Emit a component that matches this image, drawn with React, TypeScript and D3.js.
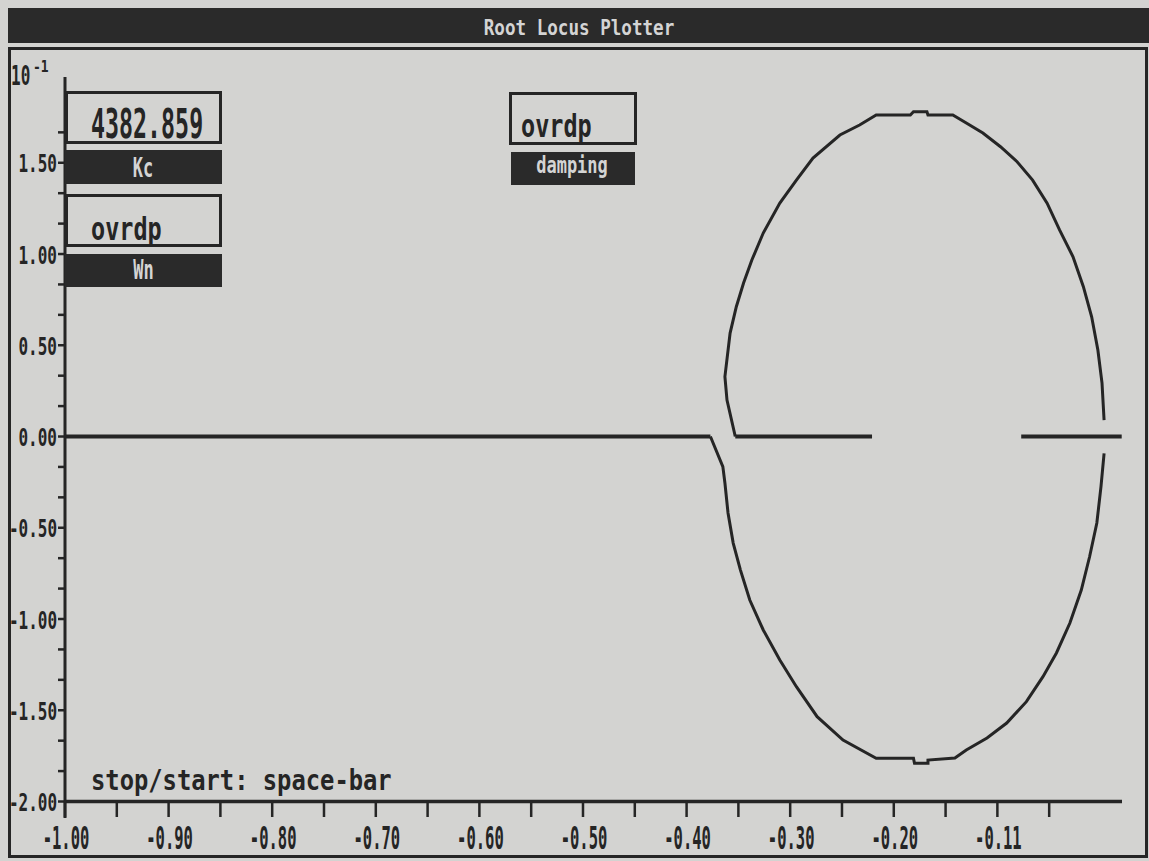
import { scaleLinear, line, range } from "d3";

const width = 1149;
const height = 861;

const upperRe = [-0.353, -0.361, -0.363, -0.358, -0.352, -0.345, -0.337, -0.326, -0.310, -0.294, -0.278, -0.252, -0.233, -0.217, -0.184, -0.181, -0.168, -0.167, -0.143, -0.130, -0.114, -0.097, -0.081, -0.066, -0.052, -0.040, -0.027, -0.017, -0.009, -0.003, 0.001, 0.003];
const upperIm = [0, 0.20, 0.328, 0.567, 0.711, 0.841, 0.967, 1.115, 1.279, 1.405, 1.526, 1.652, 1.707, 1.762, 1.762, 1.780, 1.780, 1.762, 1.762, 1.718, 1.663, 1.588, 1.506, 1.405, 1.279, 1.132, 0.985, 0.821, 0.656, 0.474, 0.293, 0.090];
const lowerRe = [-0.377, -0.365, -0.363, -0.360, -0.355, -0.348, -0.339, -0.326, -0.310, -0.294, -0.274, -0.249, -0.217, -0.181, -0.180, -0.167, -0.167, -0.141, -0.130, -0.110, -0.091, -0.072, -0.056, -0.043, -0.030, -0.019, -0.011, -0.004, 0.000, 0.003];
const lowerIm = [0, -0.165, -0.255, -0.419, -0.584, -0.732, -0.896, -1.060, -1.225, -1.371, -1.535, -1.663, -1.763, -1.763, -1.791, -1.791, -1.773, -1.762, -1.718, -1.652, -1.570, -1.453, -1.316, -1.186, -1.022, -0.841, -0.659, -0.474, -0.275, -0.092];
// pieces of the locus lying on the real axis
const realStart = [-1.0, -0.353, -0.077];
const realEnd = [-0.377, -0.221, 0.020];

const xTickValues = [-1.0, -0.9, -0.8, -0.7, -0.6, -0.5, -0.4, -0.3, -0.2, -0.1];
const xTickLabels = ["-1.00", "-0.90", "-0.80", "-0.70", "-0.60", "-0.50", "-0.40", "-0.30", "-0.20", "-0.11"];
const yTickValues = [1.5, 1.0, 0.5, 0.0, -0.5, -1.0, -1.5, -2.0];
const yTickLabels = ["1.50", "1.00", "0.50", "0.00", "-0.50", "-1.00", "-1.50", "-2.00"];

const gainValue = "4382.859";
const wnValue = "ovrdp";
const dampingValue = "ovrdp";

const bg = "#d3d3d1";
const ink = "#252525";
const light = "#d4d4d4";
const font = "DejaVu Sans Mono";

function Txt({ x, y, size, sy, anchor = "start", fill = ink, children }: any) {
  return (
    <text
      transform={`translate(${x},${y}) scale(1,${sy})`}
      fontSize={size}
      textAnchor={anchor}
      fontFamily={font}
      fontWeight="bold"
      fill={fill}
    >
      {children}
    </text>
  );
}

export default function App() {
  const xScale = scaleLinear().domain([-1, 0.02]).range([65, 1121.7]);
  const yScale = scaleLinear().domain([-2, 1.97]).range([801.5, 77]);

  const upperPts: [number, number][] = upperRe.map((r, i) => [xScale(r), yScale(upperIm[i])]);
  const lowerPts: [number, number][] = lowerRe.map((r, i) => [xScale(r), yScale(lowerIm[i])]);
  const path = line();

  const minorY = range(-12, 11).map((i) => i / 6);
  const minorX = range(0, 20).map((i) => -1 + i * 0.05);

  return (
    <svg
      width={width}
      height={height}
      style={{ position: "absolute", left: 0, top: 0, background: bg }}
    >
      <rect x={0} y={0} width={width} height={height} fill={bg} />

      {/* title bar */}
      <rect x={8} y={8} width={width - 8} height={35} fill="#2a2a2a" />
      <Txt x={579} y={35} size={17.6} sy={1.25} anchor="middle" fill={light}>
        Root Locus Plotter
      </Txt>

      {/* screen frame */}
      <rect x={9.5} y={48.5} width={1137} height={808} fill="none" stroke={ink} strokeWidth={3} />

      {/* exponent */}
      <Txt x={11} y={85} size={16} sy={1.7}>10</Txt>
      <Txt x={33} y={72} size={13} sy={1.2}>-1</Txt>

      {/* axes */}
      <line x1={65} x2={65} y1={77} y2={818} stroke={ink} strokeWidth={3} />
      <line x1={65} x2={1122} y1={yScale(-2)} y2={yScale(-2)} stroke={ink} strokeWidth={3.5} />
      {minorY.map((v) => (
        <line key={v} x1={58} x2={65} y1={yScale(v)} y2={yScale(v)} stroke={ink} strokeWidth={2.5} />
      ))}
      {minorX.map((v) => (
        <line key={v} x1={xScale(v)} x2={xScale(v)} y1={801} y2={817} stroke={ink} strokeWidth={2.5} />
      ))}
      {yTickValues.map((v, i) => (
        <Txt key={v} x={57} y={yScale(v) + 9.5} size={16} sy={1.6} anchor="end">
          {yTickLabels[i]}
        </Txt>
      ))}
      {xTickValues.map((v, i) => (
        <Txt key={v} x={xScale(v) + 1} y={849} size={15.5} sy={2.1} anchor="middle">
          {xTickLabels[i]}
        </Txt>
      ))}

      {/* locus */}
      {realStart.map((s, i) => (
        <line
          key={s}
          x1={xScale(s)}
          x2={xScale(realEnd[i])}
          y1={yScale(0)}
          y2={yScale(0)}
          stroke={ink}
          strokeWidth={4}
        />
      ))}
      <path d={path(upperPts) || ""} fill="none" stroke={ink} strokeWidth={3} />
      <path d={path(lowerPts) || ""} fill="none" stroke={ink} strokeWidth={3} />

      {/* Kc readout */}
      <rect x={66.5} y={92.5} width={154} height={50} fill={bg} stroke={ink} strokeWidth={3} />
      <Txt x={91} y={138} size={23.3} sy={1.75}>{gainValue}</Txt>
      <rect x={65} y={150} width={157} height={34} fill="#2a2a2a" />
      <Txt x={143} y={177} size={17} sy={1.6} anchor="middle" fill={light}>Kc</Txt>

      {/* Wn readout */}
      <rect x={66.5} y={195.5} width={154} height={50} fill={bg} stroke={ink} strokeWidth={3} />
      <Txt x={91} y={240} size={23.5} sy={1.35}>{wnValue}</Txt>
      <rect x={65} y={254} width={157} height={33} fill="#2a2a2a" />
      <Txt x={143.5} y={279} size={17} sy={1.6} anchor="middle" fill={light}>Wn</Txt>

      {/* damping readout */}
      <rect x={510.5} y={93.5} width={125} height={50} fill={bg} stroke={ink} strokeWidth={3} />
      <Txt x={521} y={137} size={23.5} sy={1.35}>{dampingValue}</Txt>
      <rect x={511} y={152} width={124} height={33} fill="#2a2a2a" />
      <Txt x={572} y={173} size={17} sy={1.35} anchor="middle" fill={light}>damping</Txt>

      {/* prompt */}
      <Txt x={91} y={790} size={23.8} sy={1.2}>stop/start: space-bar</Txt>
    </svg>
  );
}
